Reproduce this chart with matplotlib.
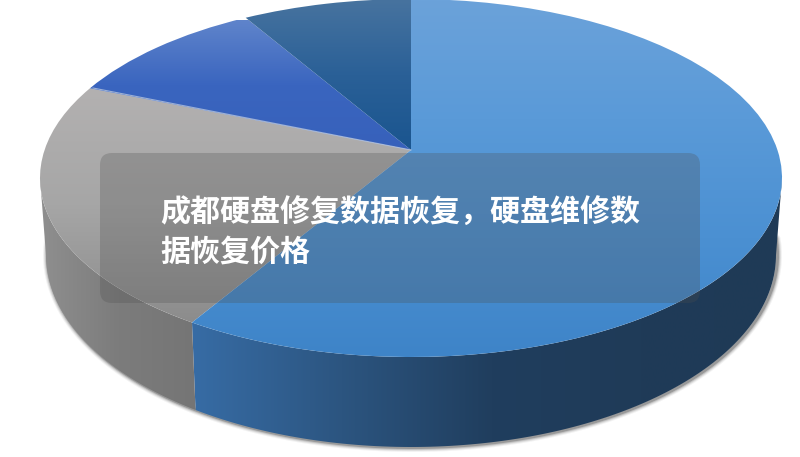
import numpy as np
import matplotlib
matplotlib.use("Agg")
import matplotlib.pyplot as plt
from matplotlib.colors import LinearSegmentedColormap
from matplotlib.patches import PathPatch, FancyBboxPatch
from matplotlib.path import Path

plt.rcParams['font.family'] = ['Noto Sans CJK SC', 'DejaVu Sans']

# data: slice shares, clockwise from 12 o'clock
slice_values = [60.05, 23.3, 9.3, 7.35]
title_lines = ["成都硬盘修复数据恢复，硬盘维修数", "据恢复价格"]

# top-face gradients (top colour -> bottom colour) per slice
top_colors = [["#6ba2da", "#5a9ad8", "#4b90d2", "#3e84c8"],
              ["#b3b1b1", "#a6a6a6", "#8c8c8c"],
              ["#5f84cb", "#3a65bf", "#3761bb"],
              ["#47739f", "#2a6097", "#1a558f"]]

W, H = 800, 457
CX, CY, RX, RY = 411, 178, 371, 179      # top ellipse
BCY, BRX, BRY = 255, 365, 192            # bottom rim ellipse
APEX = (411, 150)

fig = plt.figure(figsize=(W / 100, H / 100), dpi=100, facecolor="white")
ax = fig.add_axes([0, 0, 1, 1])

wedges, _ = ax.pie(slice_values, startangle=90, counterclock=False, radius=1, center=(0, 0))
paths = [w.get_path() for w in wedges]
for w in wedges:
    w.remove()
ax.set_aspect("auto")
ax.set_xlim(0, W)
ax.set_ylim(H, 0)
ax.axis("off")


def project(path):
    v = np.array(path.vertices, dtype=float)
    r = np.hypot(v[:, 0], v[:, 1])
    out = np.column_stack([CX + RX * v[:, 0], CY - RY * v[:, 1]])
    out[r < 1e-6] = APEX
    return Path(out, path.codes)


def gradient(patch_path, colors, extent, vertical=True, z=2):
    cmap = LinearSegmentedColormap.from_list("g", colors)
    g = np.linspace(0, 1, 256)
    arr = g[:, None] if vertical else g[None, :]
    im = ax.imshow(arr, cmap=cmap, extent=extent, aspect="auto", zorder=z,
                   interpolation="bilinear", vmin=0, vmax=1)
    patch = PathPatch(patch_path, transform=ax.transData, fc="none", ec="none")
    ax.add_patch(patch)
    im.set_clip_path(patch)


def top_pt(t):
    return np.column_stack([CX + RX * np.sin(t), CY - RY * np.cos(t)])


def bot_pt(t):
    return np.column_stack([CX + BRX * np.sin(t), BCY - BRY * np.cos(t)])


# soft shadow around the bottom rim
t_s = np.radians(np.linspace(85, 275, 200))
sx, sy = bot_pt(t_s).T
for lw, al in zip([9, 7, 5, 3], [0.06, 0.10, 0.16, 0.28]):
    ax.plot(sx + 1.5, sy + 0.5, color="#303030", lw=lw * 0.72, alpha=al, zorder=1,
            solid_capstyle="round")

# side walls
bound = np.radians(np.cumsum(slice_values)[0] / 100 * 360)
t1 = np.linspace(np.radians(90), bound, 120)
side1 = np.vstack([top_pt(t1), bot_pt(t1)[::-1]])
gradient(Path(np.vstack([side1, side1[0]]), closed=True),
         ["#1f3a56", "#1f3b58", "#203e5e", "#2c5580", "#376ca5"],
         [790, 192, 457, 0], vertical=False)
t2 = np.linspace(bound, np.radians(270), 80)
side2 = np.vstack([top_pt(t2), bot_pt(t2)[::-1]])
gradient(Path(np.vstack([side2, side2[0]]), closed=True),
         ["#757575", "#7c7c7c", "#8f8f8f"],
         [197, 40, 457, 0], vertical=False)

# top face
extents = [[0, 800, 357, 0], [0, 800, 322, 88], [0, 800, 150, 20], [0, 800, 150, 0]]
for i in [1, 2, 3, 0]:
    gradient(project(paths[i]), top_colors[i], extents[i], z=3)

# light separator between gray and blue slice
ax.plot([93, APEX[0]], [88, APEX[1]], color="#b6c4dc", lw=0.8, alpha=0.8, zorder=4)

# translucent caption panel
panel = FancyBboxPatch((108, 161), 584, 134, boxstyle="round,pad=8,rounding_size=12",
                       fc=(78 / 255, 78 / 255, 78 / 255, 0.27), ec="none", zorder=5)
ax.add_patch(panel)

for line, y in zip(title_lines, [213, 252]):
    ax.text(160, y, line, color="white", fontsize=21.6, fontweight="bold",
            va="center", ha="left", zorder=6)

ax.set_xlim(0, W)
ax.set_ylim(H, 0)
fig.savefig("out.png", dpi=100, facecolor="white")
